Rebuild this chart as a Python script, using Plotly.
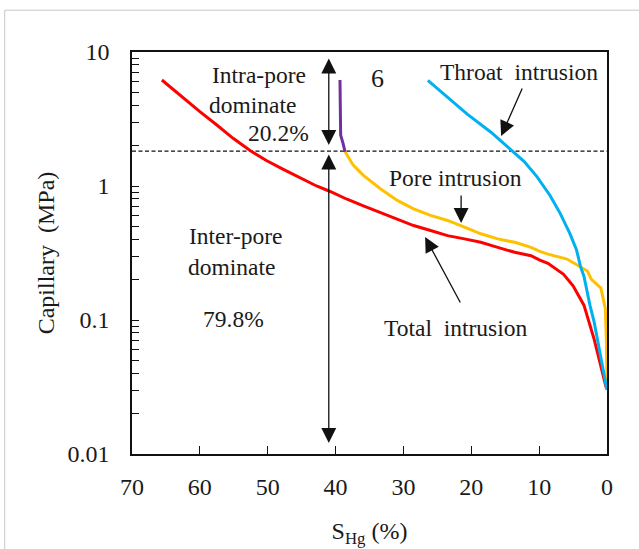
import plotly.graph_objects as go

# ---------------- data ----------------
total_x = [65.6, 62.4, 60.0, 57.5, 55.1, 52.6, 50.2, 47.7, 45.2, 42.8, 40.8, 38.4, 35.9, 33.4,
           30.9, 28.5, 26.0, 23.5, 21.0, 18.6, 16.1, 13.6, 11.2, 9.9, 8.7, 6.4, 5.0, 3.4, 1.9, 0.1]
total_y = [6.18, 4.52, 3.59, 2.85, 2.27, 1.84, 1.55, 1.33, 1.15, 1.00, 0.91, 0.80, 0.71, 0.635,
           0.569, 0.507, 0.465, 0.426, 0.403, 0.380, 0.348, 0.320, 0.302, 0.280, 0.265, 0.219,
           0.180, 0.129, 0.072, 0.031]

pore_x = [38.6, 37.4, 35.9, 33.4, 30.9, 28.5, 26.0, 23.5, 21.0, 18.6, 16.1, 13.6, 11.2, 9.9,
          8.7, 5.9, 4.2, 2.9, 2.3, 0.9, 0.25, 0.1, 0.0]
pore_y = [1.80, 1.43, 1.20, 0.955, 0.781, 0.676, 0.603, 0.553, 0.493, 0.440, 0.403, 0.380,
          0.348, 0.325, 0.310, 0.285, 0.254, 0.232, 0.201, 0.173, 0.122, 0.072, 0.030]

intra_x = [39.35, 39.3, 39.25, 38.9, 38.6]
intra_y = [6.18, 4.0, 2.40, 2.08, 1.80]

throat_x = [26.4, 23.5, 20.6, 17.1, 14.0, 12.2, 10.3, 8.4, 6.9, 5.5, 4.5, 3.9, 3.4, 3.0,
            2.5, 1.9, 0.0]
throat_y = [6.14, 4.60, 3.44, 2.52, 1.82, 1.52, 1.17, 0.85, 0.625, 0.445, 0.335, 0.25,
            0.212, 0.168, 0.128, 0.097, 0.030]

threshold = 1.82
x_ticks = [70, 60, 50, 40, 30, 20, 10, 0]
y_ticks = [0.01, 0.1, 1, 10]
y_tick_text = ["0.01", "0.1", "1", "10"]
minor_y = [m * 10 ** k for k in (-2, -1, 0) for m in range(2, 10)]

FONT = "Liberation Serif"
TXT = "#1a1a1a"
FS = 24

fig = go.Figure()

fig.add_trace(go.Scatter(x=[70, 0], y=[threshold, threshold], mode="lines",
                         line=dict(color="#111111", width=1.2, dash="4px,2.5px"),
                         hoverinfo="skip", showlegend=False))
fig.add_trace(go.Scatter(x=total_x, y=total_y, mode="lines", name="Total intrusion",
                         line=dict(color="#ff0000", width=3)))
fig.add_trace(go.Scatter(x=pore_x, y=pore_y, mode="lines", name="Pore intrusion",
                         line=dict(color="#ffc000", width=3)))
fig.add_trace(go.Scatter(x=throat_x, y=throat_y, mode="lines", name="Throat intrusion",
                         line=dict(color="#00b0f0", width=3)))
fig.add_trace(go.Scatter(x=intra_x, y=intra_y, mode="lines", name="Intra-pore",
                         line=dict(color="#7030a0", width=3)))

texts = [
    ("Intra-pore", 51.3, 0.828),
    ("dominate", 52.2, 0.604),
    ("20.2%", 48.4, 0.396),
    ("6", 33.75, 0.80),
    ("Throat  intrusion", 13.0, 0.852),
    ("Pore intrusion", 22.3, 0.062),
    ("Inter-pore", 54.7, -0.375),
    ("dominate", 55.4, -0.604),
    ("79.8%", 55.0, -0.99),
    ("Total  intrusion", 22.3, -1.06),
]
for t, x, y in texts:
    fig.add_annotation(x=x, y=y, xref="x", yref="y", text=t, showarrow=False,
                       font=dict(family=FONT, size=23.5 if t != "6" else 26, color=TXT))

# arrows: (tail_x, tail_ylog, head_x, head_ylog, double)
arrows = [
    (12.4, 0.739, 15.6, 0.373, False),
    (21.5, -0.060, 21.5, -0.276, False),
    (21.5, -0.881, 26.8, -0.381, False),
    (41.0, 0.963, 41.0, 0.306, True),
    (41.0, 0.246, 41.0, -1.918, True),
]
for tx, ty, hx, hy, dbl in arrows:
    fig.add_annotation(x=hx, y=hy, ax=tx, ay=ty, xref="x", yref="y", axref="x", ayref="y",
                       text="", showarrow=True, arrowhead=2, startarrowhead=2,
                       arrowside="end+start" if dbl else "end",
                       arrowsize=2.3, startarrowsize=2.3, arrowwidth=1.3,
                       arrowcolor="#111111", standoff=0, startstandoff=0)

# outer light frame
fig.add_shape(type="rect", xref="paper", yref="paper", x0=-0.268, x1=1.3, y0=-0.5, y1=1.104,
              line=dict(color="#c8c8c8", width=1), fillcolor="rgba(0,0,0,0)", layer="below")

fig.update_layout(
    width=639, height=549,
    margin=dict(l=132, r=32, t=52, b=95),
    paper_bgcolor="white", plot_bgcolor="white",
    showlegend=False,
    font=dict(family=FONT, color=TXT, size=FS),
    xaxis=dict(range=[70, 0], tickvals=x_ticks, ticks="inside", ticklen=8, tickwidth=1.3,
               tickcolor="#111111", showline=True, linecolor="#111111", linewidth=1.5,
               mirror=True, showgrid=False, zeroline=False, automargin=False,
               tickfont=dict(family=FONT, size=FS, color=TXT), ticklabelstandoff=10,
               title=dict(text="S<sub>Hg</sub> (%)", standoff=24,
                          font=dict(family=FONT, size=FS, color=TXT))),
    yaxis=dict(type="log", range=[-2, 1], tickvals=y_ticks, ticktext=y_tick_text,
               ticks="inside", ticklen=7, tickwidth=1.3, tickcolor="#111111",
               minor=dict(tickvals=minor_y, ticks="inside", ticklen=7, tickwidth=1.3,
                          tickcolor="#111111", showgrid=False),
               showline=True, linecolor="#111111", linewidth=1.5, mirror=True,
               showgrid=False, zeroline=False, automargin=False,
               tickfont=dict(family=FONT, size=FS, color=TXT), ticklabelstandoff=16,
               title=dict(text="Capillary  (MPa)", standoff=6,
                          font=dict(family=FONT, size=FS, color=TXT))),
)

fig.write_html("out.html")
